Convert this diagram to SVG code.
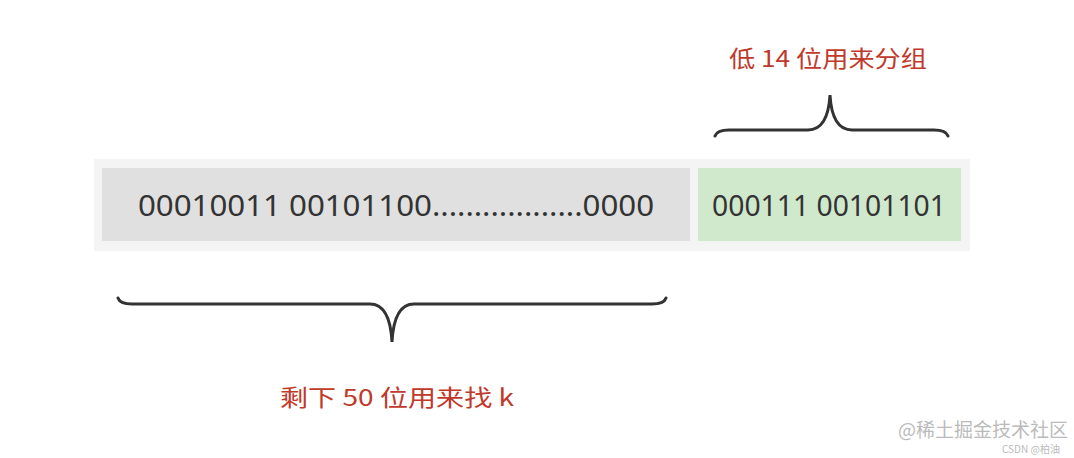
<svg xmlns="http://www.w3.org/2000/svg" width="1074" height="458" viewBox="0 0 1074 458">
<style>
.num{font-family:"Noto Sans","Open Sans",sans-serif;font-size:29px;fill:#333;text-anchor:middle}
.lbl{font-family:"Noto Sans CJK SC",sans-serif;font-size:23px;fill:#c0392b;text-anchor:middle}
.br{fill:none;stroke:#333;stroke-width:3;stroke-linecap:round}
.wm{font-family:"Noto Sans CJK SC",sans-serif;fill:#bbb}
</style>
<rect width="1074" height="458" fill="#fff"/>
<rect x="94" y="159" width="876" height="92" fill="#f4f4f4"/>
<g id="high"><rect x="102" y="168" width="588" height="73" fill="#e0e0e0"/>
<text class="num" x="396" y="216" textLength="516" lengthAdjust="spacingAndGlyphs">00010011 00101100..................0000</text></g>
<g id="low"><rect x="698" y="168" width="263" height="73" fill="#d0e8cc"/>
<text class="num" x="829" y="216" textLength="234" lengthAdjust="spacingAndGlyphs">000111 00101101</text></g>
<g id="connectors">
<path class="br" d="M118,298 Q120,304 132,304 L370,304 Q390,304 392,342 Q394,304 414,304 L652,304 Q664,304 666,298"/>
<path class="br" d="M715,136 Q717,130 729,130 L808,130 Q828,130 830,95 Q832,130 852,130 L934,130 Q946,130 948,136"/>
</g>
<text class="lbl" x="828" y="67" textLength="198" lengthAdjust="spacingAndGlyphs">低 14 位用来分组</text>
<text class="lbl" x="397" y="406" textLength="234" lengthAdjust="spacingAndGlyphs">剩下 50 位用来找 k</text>
<text class="wm" x="898" y="437" font-size="19">@稀土掘金技术社区</text>
<text class="wm" x="1002" y="453" font-size="10">CSDN @柏油</text>
</svg>
